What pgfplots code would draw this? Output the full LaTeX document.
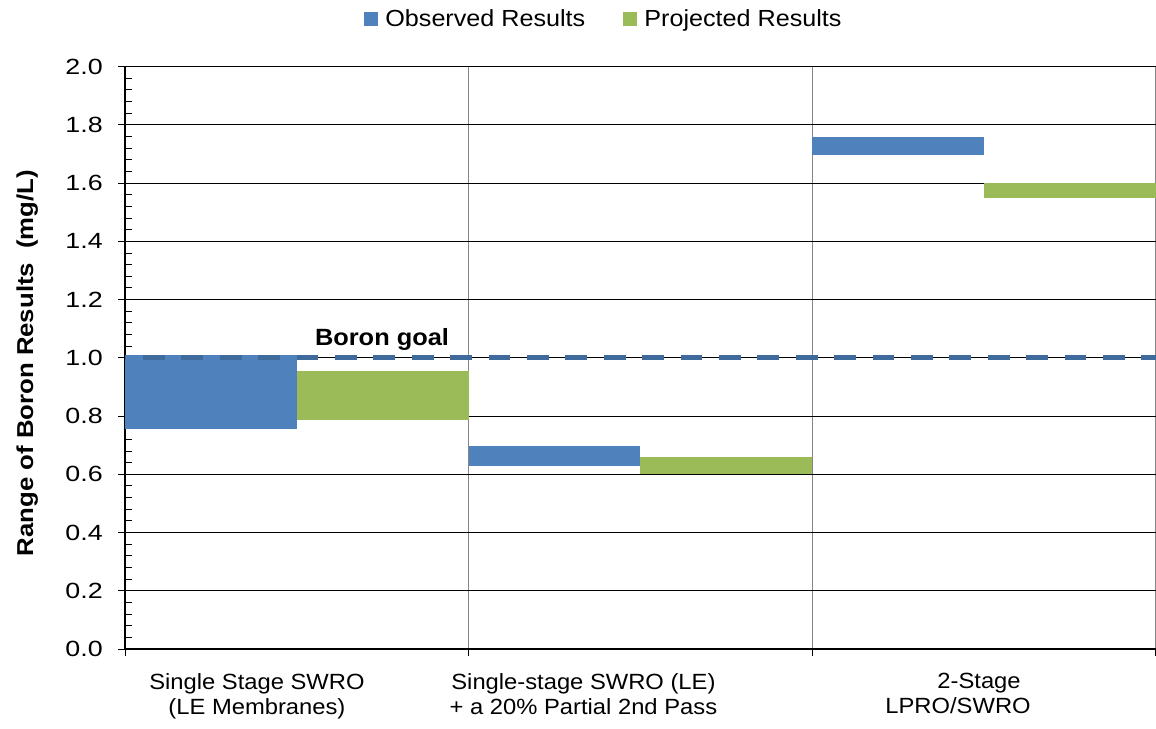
\documentclass[border=0pt]{standalone}
\usepackage{fontspec}
\setmainfont{Liberation Sans}[FakeStretch=1.08]
\newfontfamily\tickfont{Liberation Sans}[FakeStretch=1.22]
\newfontfamily\ylabfont{Liberation Sans}[FakeStretch=1.12]
\usepackage{pgfplots}
\pgfplotsset{compat=1.18}
\definecolor{obsblue}{HTML}{4F81BD}
\definecolor{projgreen}{HTML}{9BBB59}
\definecolor{goalblue}{HTML}{3F6A9C}
\definecolor{gridgray}{HTML}{868686}
\begin{document}
\begin{tikzpicture}[x=1pt,y=1pt]
\begin{axis}[
  at={(125pt,79pt)}, anchor=south west,
  scale only axis, width=1031pt, height=582.3pt,
  xmin=0, xmax=6, ymin=0, ymax=2,
  axis x line*=bottom, axis y line*=left,
  axis line style={black, line width=2pt, -},
  xtick={0,2,4,6}, xticklabels={},
  xtick align=outside, ytick align=inside,
  major tick length=7pt, minor tick length=6.5pt,
  tick style={black, line width=1pt},
  xmajorgrids, x grid style={gridgray, line width=1.5pt},
  ymajorgrids, y grid style={black, line width=1pt},
  ytick={0,0.2,0.4,0.6,0.8,1.0,1.2,1.4,1.6,1.8,2.0},
  yticklabels={0.0,0.2,0.4,0.6,0.8,1.0,1.2,1.4,1.6,1.8,2.0},
  minor y tick num=4,
  yticklabel style={font=\tickfont\fontsize{22}{26}\selectfont, anchor=east, inner sep=0pt, xshift=-22pt},
  extra y ticks={0,0.2,0.4,0.6,0.8,1.0,1.2,1.4,1.6,1.8,2.0},
  extra y tick labels={},
  extra y tick style={ytick align=outside, grid=none},
  extra x ticks={0.768,2.668,4.848},
  extra x tick labels={{Single Stage SWRO\\(LE Membranes)},{Single-stage SWRO (LE)\\+ a 20\% Partial 2nd Pass},{\hspace*{42pt}2-Stage\\LPRO/SWRO}},
  extra x tick style={major tick length=0pt, grid=none},
  xticklabel style={font=\fontsize{22}{25}\selectfont, align=center, anchor=north, inner sep=0pt, yshift=-24pt},
  ylabel={Range of Boron Results\ \ (mg/L)},
  every axis y label/.style={at={(axis description cs:-0.0892,0.491)}, rotate=90, anchor=base, font=\ylabfont\bfseries\fontsize{23}{27}\selectfont},
  legend columns=2,
  legend image code/.code={\fill[#1] (0pt,-7pt) rectangle (14pt,7pt);},
  legend style={at={(axis description cs:0.4636,1.082)}, anchor=center, draw=none, fill=none,
    font=\fontsize{23.3}{27}\selectfont, inner sep=0pt, nodes={inner sep=0pt, anchor=west}, column sep=7pt,
    /tikz/every even column/.append style={column sep=38pt}},
]
% Observed (blue) floating bars
\addplot[fill=obsblue, draw=none, forget plot] coordinates {(0,0.757) (1,0.757) (1,1.01) (0,1.01)};
\addplot[fill=obsblue, draw=none, forget plot] coordinates {(2,0.629) (3,0.629) (3,0.697) (2,0.697)};
\addplot[fill=obsblue, draw=none, forget plot] coordinates {(4,1.698) (5,1.698) (5,1.760) (4,1.760)};
% Projected (green) floating bars
\addplot[fill=projgreen, draw=none, forget plot] coordinates {(1,0.787) (2,0.787) (2,0.956) (1,0.956)};
\addplot[fill=projgreen, draw=none, forget plot] coordinates {(3,0.600) (4,0.600) (4,0.659) (3,0.659)};
\addplot[fill=projgreen, draw=none, forget plot] coordinates {(5,1.548) (6,1.548) (6,1.600) (5,1.600)};
% Boron goal line
\addplot[goalblue, line width=5.3pt, dash pattern=on 21.7pt off 16.7pt, dash phase=20.4pt, forget plot] coordinates {(0,1.0) (6,1.0)};
\node[font=\bfseries\fontsize{23.5}{28}\selectfont, anchor=base] at (axis cs:1.4957,1.043) {Boron goal};
\addlegendimage{fill=obsblue, draw=none}
\addlegendentry{Observed Results}
\addlegendimage{fill=projgreen, draw=none}
\addlegendentry{Projected Results}
\end{axis}
\pgfresetboundingbox
\path (0,0) rectangle (1156,728);
\end{tikzpicture}
\end{document}
